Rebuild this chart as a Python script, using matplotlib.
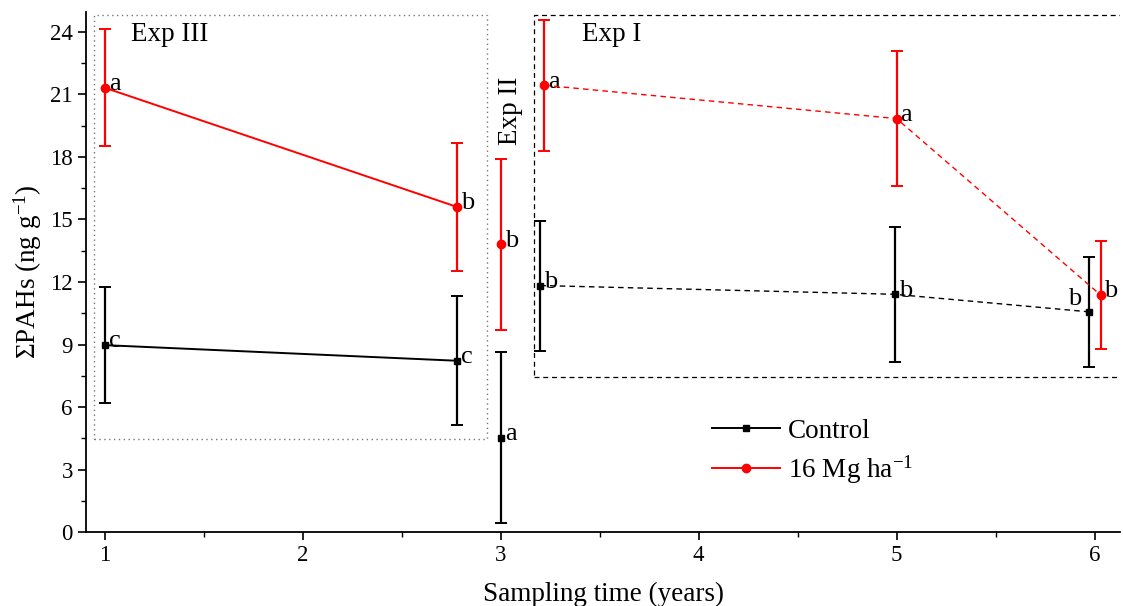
import matplotlib
matplotlib.use("Agg")
import matplotlib.pyplot as plt
from matplotlib.patches import Rectangle
from matplotlib.lines import Line2D
from matplotlib.ticker import MultipleLocator

plt.rcParams["font.family"] = ["Liberation Serif", "DejaVu Serif"]
plt.rcParams["mathtext.fontset"] = "custom"
plt.rcParams["mathtext.rm"] = "Liberation Serif"
plt.rcParams["mathtext.it"] = "Liberation Serif:italic"

# Exp III (solid lines)
exp3_x = [1.0, 2.78]
exp3_ctrl = [8.97, 8.22]
exp3_ctrl_err = [2.8, 3.1]
exp3_ctrl_lbl = ["c", "c"]
exp3_trt = [21.32, 15.6]
exp3_trt_err = [2.8, 3.08]
exp3_trt_lbl = ["a", "b"]

# Exp II (single point)
exp2_x = [3.0]
exp2_ctrl = [4.52]
exp2_ctrl_err = [4.1]
exp2_ctrl_lbl = ["a"]
exp2_trt = [13.8]
exp2_trt_err = [4.1]
exp2_trt_lbl = ["b"]

# Exp I (dashed lines)
exp1_ctrl_x = [3.2, 4.99, 5.97]
exp1_ctrl = [11.83, 11.41, 10.57]
exp1_ctrl_err = [3.12, 3.25, 2.63]
exp1_ctrl_lbl = ["b", "b", "b"]
exp1_trt_x = [3.22, 5.0, 6.03]
exp1_trt = [21.44, 19.84, 11.38]
exp1_trt_err = [3.15, 3.25, 2.6]
exp1_trt_lbl = ["a", "a", "b"]

fig = plt.figure(figsize=(11.23, 6.06), dpi=100)
ax = fig.add_axes([0.0766, 0.122, 0.921, 0.858])


def series(x, y, err, color, marker, ms, ls, dashes=None):
    ax.errorbar(x, y, yerr=err, fmt="none", ecolor=color, elinewidth=1.6,
                capsize=4, capthick=1.4, zorder=3)
    kw = dict(color=color, lw=1.4 if ls == "-" else 1.0, ls=ls,
              marker=marker, ms=ms, zorder=4)
    line, = ax.plot(x, y, **kw)
    if dashes:
        line.set_dashes(dashes)


series(exp3_x, exp3_ctrl, exp3_ctrl_err, "black", "s", 5, "-")
series(exp3_x, exp3_trt, exp3_trt_err, "red", "o", 6, "-")
series(exp2_x, exp2_ctrl, exp2_ctrl_err, "black", "s", 5, "-")
series(exp2_x, exp2_trt, exp2_trt_err, "red", "o", 6, "-")
series(exp1_ctrl_x, exp1_ctrl, exp1_ctrl_err, "black", "s", 5, "--", (4, 3))
series(exp1_trt_x, exp1_trt, exp1_trt_err, "red", "o", 6, "--", (4, 3))


def letters(x, y, lbl, left_idx=()):
    for i, (xi, yi, t) in enumerate(zip(x, y, lbl)):
        if i in left_idx:
            ax.text(xi - 0.035, yi + 0.1, t, fontsize=19, ha="right", va="bottom")
        else:
            ax.text(xi + 0.02, yi - 0.35, t, fontsize=19, ha="left", va="bottom")


letters(exp3_x, exp3_ctrl, exp3_ctrl_lbl)
letters(exp3_x, exp3_trt, exp3_trt_lbl)
letters(exp2_x, exp2_ctrl, exp2_ctrl_lbl)
letters(exp2_x, exp2_trt, exp2_trt_lbl)
letters(exp1_ctrl_x, exp1_ctrl, exp1_ctrl_lbl, left_idx=(2,))
letters(exp1_trt_x, exp1_trt, exp1_trt_lbl)

# experiment boxes
ax.add_patch(Rectangle((0.946, 4.45), 2.93 - 0.946, 24.83 - 4.45, fill=False,
                       ec="#777777", lw=1.0, ls=(0, (1, 2.5)), zorder=1))
ax.add_patch(Rectangle((3.17, 7.43), 3.2, 24.83 - 7.43, fill=False,
                       ec="black", lw=0.9, ls=(0, (4, 3)), zorder=1))

ax.text(1.13, 23.9, "Exp III", fontsize=19.5, ha="left", va="center")
ax.text(3.05, 20.2, "Exp II", fontsize=19.5, ha="center", va="center", rotation=90)
ax.text(3.41, 23.9, "Exp I", fontsize=19.5, ha="left", va="center")

handles = [
    Line2D([], [], color="black", marker="s", ms=5, lw=1.4),
    Line2D([], [], color="red", marker="o", ms=6, lw=1.4),
]
ax.legend(handles, ["Control", "16 Mg ha$^{-1}$"], loc="upper left",
          bbox_to_anchor=(0.582, 0.265), frameon=False, fontsize=19.5,
          handlelength=2.5, handletextpad=0.3, labelspacing=0.35)

ax.set_xlim(0.905, 6.13)
ax.set_ylim(0, 24.95)
ax.set_yticks(range(0, 25, 3))
ax.set_xticks([1, 2, 3, 4, 5, 6])
ax.xaxis.set_minor_locator(MultipleLocator(0.5))
ax.yaxis.set_minor_locator(MultipleLocator(1.5))
ax.tick_params(which="major", direction="out", length=6, width=1.2, labelsize=16.5)
ax.tick_params(which="minor", direction="out", length=3.5, width=1.0)
for side in ("top", "right"):
    ax.spines[side].set_visible(False)
for side in ("left", "bottom"):
    ax.spines[side].set_linewidth(1.3)

ax.set_xlabel("Sampling time (years)", fontsize=19.5, labelpad=11)
ax.set_ylabel("ΣPAHs (ng g$^{-1}$)", fontsize=19.5, labelpad=4)

fig.savefig("out.png", dpi=100)
